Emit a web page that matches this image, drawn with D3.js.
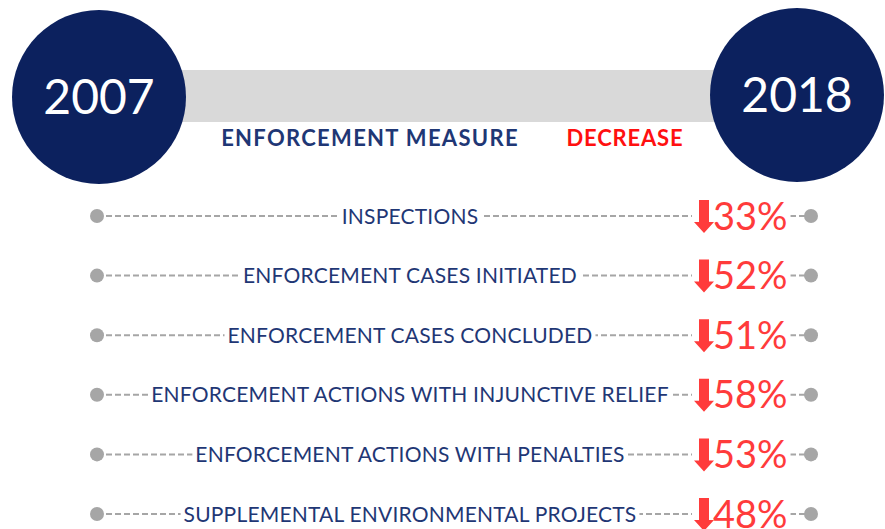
<!DOCTYPE html>
<html><head><meta charset="utf-8">
<script src="https://cdn.jsdelivr.net/npm/d3@7"></script>
<style>html,body{margin:0;padding:0;background:#fff;overflow:hidden}</style>
</head><body>
<svg id="c" width="885" height="529"></svg>
<script>
const years = ["2007", "2018"];
const headers = ["ENFORCEMENT MEASURE", "DECREASE"];
const measures = [
  "INSPECTIONS",
  "ENFORCEMENT CASES INITIATED",
  "ENFORCEMENT CASES CONCLUDED",
  "ENFORCEMENT ACTIONS WITH INJUNCTIVE RELIEF",
  "ENFORCEMENT ACTIONS WITH PENALTIES",
  "SUPPLEMENTAL ENVIRONMENTAL PROJECTS"
];
const decreases = [33, 52, 51, 58, 53, 48];

const svg = d3.select("#c");
const font = "Lato, 'Open Sans', sans-serif";
const navy = "#0c215e", labelNavy = "#1f3775", red = "#ff3b3b", gray = "#a6a6a6";

const x = d3.scaleLinear().domain([0, 1]).range([99, 797]);
const y = d3.scalePoint().domain(measures).range([216, 514]);
const dotX = d3.scaleLinear().domain([0, 1]).range([97, 811]);

// gray bar
svg.append("rect").attr("x", x(0)).attr("y", 70).attr("width", x(1) - x(0)).attr("height", 52).attr("fill", "#d9d9d9");

// circles
svg.selectAll("circle.yr").data(years).join("circle").attr("class", "yr")
  .attr("cx", (d, i) => x(i)).attr("cy", (d, i) => i ? 95 : 97).attr("r", 87).attr("fill", navy);
svg.selectAll("text.yr").data(years).join("text").attr("class", "yr")
  .attr("x", (d, i) => x(i)).attr("y", (d, i) => i ? 95 : 97).attr("dy", "0.35em")
  .attr("text-anchor", "middle").attr("font-family", font).attr("font-size", 48)
  .attr("fill", "#fff").text(d => d);

// headers
svg.append("text").attr("x", 370).attr("y", 146).attr("text-anchor", "middle")
  .attr("font-family", font).attr("font-weight", "bold").attr("font-size", 22)
  .attr("letter-spacing", 1.3).attr("fill", labelNavy).text(headers[0]);
svg.append("text").attr("x", 625).attr("y", 146).attr("text-anchor", "middle")
  .attr("font-family", font).attr("font-weight", "bold").attr("font-size", 22)
  .attr("letter-spacing", 0.8).attr("fill", "#ff1010").text(headers[1]);

const rows = svg.selectAll("g.row").data(measures.map((m, i) => ({m, v: decreases[i]}))).join("g")
  .attr("class", "row").attr("transform", d => `translate(0,${y(d.m)})`);

rows.append("line").attr("x1", dotX(0)).attr("x2", dotX(1)).attr("y1", 0).attr("y2", 0)
  .attr("stroke", gray).attr("stroke-width", 2).attr("stroke-dasharray", "6,3");
rows.append("circle").attr("cx", dotX(0)).attr("r", 7).attr("fill", gray);
rows.append("circle").attr("cx", dotX(1)).attr("r", 7).attr("fill", gray);

// labels with white backgrounds
rows.each(function(d) {
  const g = d3.select(this);
  const bg = g.append("rect").attr("fill", "#fff");
  const t = g.append("text").attr("x", 410).attr("y", 0).attr("dy", "0.36em").attr("text-anchor", "middle")
    .attr("font-family", font).attr("font-size", 21).attr("letter-spacing", 0.2)
    .attr("fill", labelNavy).text(d.m);
  const b = t.node().getBBox();
  bg.attr("x", b.x - 3).attr("y", b.y).attr("width", b.width + 6).attr("height", b.height);

  const bg2 = g.append("rect").attr("fill", "#fff");
  const p = g.append("text").attr("x", 713).attr("y", 0).attr("dy", "0.36em")
    .attr("font-family", font).attr("font-size", 38).attr("fill", red).text(d.v + "%");
  const pb = p.node().getBBox();
  bg2.attr("x", 692).attr("y", pb.y).attr("width", pb.x + pb.width - 692 + 3).attr("height", pb.height);
  // arrow
  g.append("path").attr("fill", red)
    .attr("d", "M699,-16 L709,-16 L709,6 L714,6 L704,17 L694,6 L699,6 Z");
});
</script>
</body></html>
